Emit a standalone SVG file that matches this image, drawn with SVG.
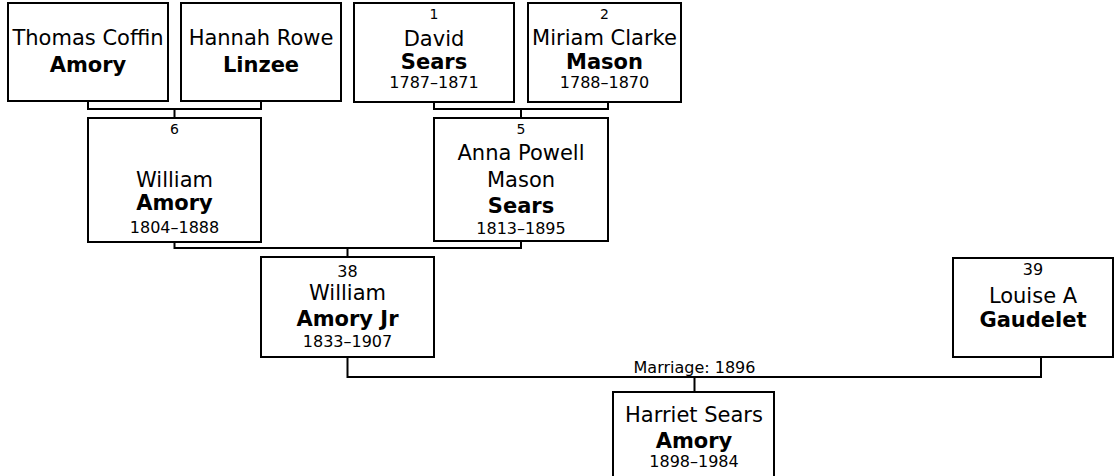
<svg xmlns="http://www.w3.org/2000/svg" width="1114" height="476" viewBox="0 0 1114 476">
<style>
  .box { fill: #fff; stroke: #000; stroke-width: 2; }
  .conn { fill: none; stroke: #000; stroke-width: 2; }
  text { font-family: "DejaVu Sans", Verdana, sans-serif; fill: #000; text-anchor: middle; }
  .nm { font-size: 21px; }
  .sn { font-size: 21px; font-weight: bold; }
  .dt { font-size: 16px; }
  .no { font-size: 14px; }
  .nob { font-size: 16px; }
  .lbl { font-size: 16px; }
</style>
<rect width="1114" height="476" fill="#fff"/>
<g id="connectors">
  <path class="conn" d="M88,101 V109 H261 V101 M174.5,109 V118"/>
  <path class="conn" d="M434,102 V109 H608 V102 M521,109 V118"/>
  <path class="conn" d="M174.5,242 V248 H521 V241 M347.5,248 V257"/>
  <path class="conn" d="M347.5,357 V377 H1041 V357 M694.5,377 V392"/>
  <text class="lbl" x="694.5" y="372.5">Marriage: 1896</text>
</g>
<g id="n-thomas">
  <rect class="box" x="8" y="3" width="160" height="98"/>
  <text class="nm" x="88" y="45">Thomas Coffin</text>
  <text class="sn" x="88" y="71.5">Amory</text>
</g>
<g id="n-hannah">
  <rect class="box" x="181" y="3" width="160" height="98"/>
  <text class="nm" x="261" y="45">Hannah Rowe</text>
  <text class="sn" x="261" y="71.5">Linzee</text>
</g>
<g id="n1">
  <rect class="box" x="354" y="3" width="160" height="99"/>
  <text class="no" x="434" y="19">1</text>
  <text class="nm" x="434" y="46">David</text>
  <text class="sn" x="434" y="68.5">Sears</text>
  <text class="dt" x="434" y="87.5">1787–1871</text>
</g>
<g id="n2">
  <rect class="box" x="528" y="3" width="153" height="99"/>
  <text class="no" x="604.5" y="19">2</text>
  <text class="nm" x="604.5" y="44.5">Miriam Clarke</text>
  <text class="sn" x="604.5" y="68.5">Mason</text>
  <text class="dt" x="604.5" y="87.5">1788–1870</text>
</g>
<g id="n6">
  <rect class="box" x="88" y="118" width="173" height="124"/>
  <text class="no" x="174.5" y="133.5">6</text>
  <text class="nm" x="174.5" y="186.5">William</text>
  <text class="sn" x="174.5" y="209.5">Amory</text>
  <text class="dt" x="174.5" y="233">1804–1888</text>
</g>
<g id="n5">
  <rect class="box" x="434" y="118" width="174" height="123"/>
  <text class="no" x="521" y="133.5">5</text>
  <text class="nm" x="521" y="160">Anna Powell</text>
  <text class="nm" x="521" y="186.5">Mason</text>
  <text class="sn" x="521" y="212.5">Sears</text>
  <text class="dt" x="521" y="233.5">1813–1895</text>
</g>
<g id="n38">
  <rect class="box" x="261" y="257" width="173" height="100"/>
  <text class="nob" x="347.5" y="276.5">38</text>
  <text class="nm" x="347.5" y="300">William</text>
  <text class="sn" x="347.5" y="326">Amory Jr</text>
  <text class="dt" x="347.5" y="347">1833–1907</text>
</g>
<g id="n39">
  <rect class="box" x="953" y="258" width="160" height="99"/>
  <text class="nob" x="1033" y="275">39</text>
  <text class="nm" x="1033" y="303">Louise A</text>
  <text class="sn" x="1033" y="327">Gaudelet</text>
</g>
<g id="n-harriet">
  <rect class="box" x="613" y="392" width="161" height="100"/>
  <text class="nm" x="694" y="421.5">Harriet Sears</text>
  <text class="sn" x="694" y="448">Amory</text>
  <text class="dt" x="694" y="467">1898–1984</text>
</g>
</svg>
